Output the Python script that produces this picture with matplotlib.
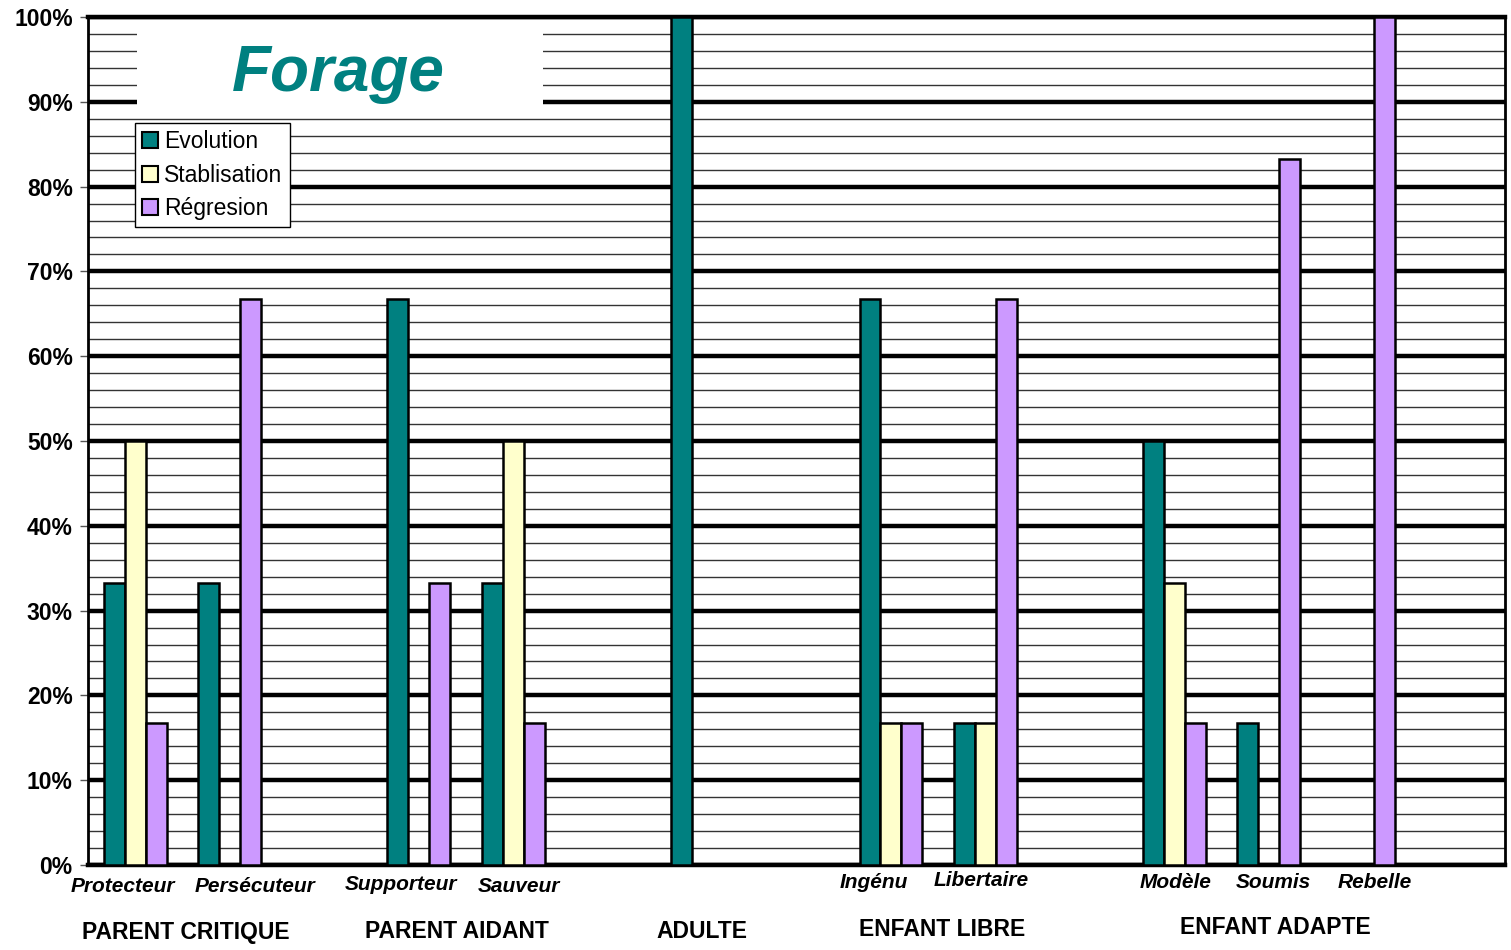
import matplotlib
matplotlib.use("Agg")
import matplotlib.pyplot as plt
import matplotlib.transforms as mtransforms
import numpy as np
from matplotlib.patches import Rectangle, Patch
from matplotlib.ticker import MultipleLocator, FuncFormatter

plt.rcParams["font.family"] = ["Liberation Sans", "DejaVu Sans"]

# 15 category slots, some left empty as spacers
roles = ["Protecteur", "Persécuteur", "", "Supporteur", "Sauveur", "", "ADULTE", "",
         "Ingénu", "Libertaire", "", "Modèle", "Soumis", "Rebelle", ""]
evolution = [33.3, 33.3, 0, 66.7, 33.3, 0, 100, 0, 66.7, 16.7, 0, 50, 16.7, 0, 0]
stablisation = [50, 0, 0, 0, 50, 0, 0, 0, 16.7, 16.7, 0, 33.3, 0, 0, 0]
regression = [16.7, 66.7, 0, 33.3, 16.7, 0, 0, 0, 16.7, 66.7, 0, 16.7, 83.3, 100, 0]

series_names = ["Evolution", "Stablisation", "Régresion"]
colors = ["#008080", "#FFFFCC", "#CC99FF"]

# role labels (placed by hand under the axis in the original)
role_labels = ["Protecteur", "Persécuteur", "Supporteur", "Sauveur",
               "Ingénu", "Libertaire", "Modèle", "Soumis", "Rebelle"]
role_label_x = [-0.13, 1.27, 2.81, 4.06, 7.82, 8.96, 11.01, 12.05, 13.12]
role_label_y = [887, 887, 885, 887, 883, 881, 883, 883, 883]

groups = ["PARENT CRITIQUE", "PARENT AIDANT", "ADULTE", "ENFANT LIBRE", "ENFANT ADAPTE"]
group_x = [0.54, 3.41, 6.0, 8.54, 12.07]
group_y = [932, 932, 931, 929, 927]

W, H = 1511, 950
fig = plt.figure(figsize=(W / 100, H / 100), dpi=100)
ax = fig.add_axes([88 / W, 1 - 865 / H, (1505 - 88) / W, (865 - 17) / H])

x = np.arange(len(roles))
width = 0.222
for i, (vals, col) in enumerate(zip([evolution, stablisation, regression], colors)):
    v = np.array(vals, dtype=float)
    mask = v > 0
    ax.bar(x[mask] + (i - 1) * width, v[mask], width, color=col,
           edgecolor="black", linewidth=1.8, zorder=3)

ax.set_xlim(-0.5, len(roles) - 0.5)
ax.set_ylim(0, 100)
ax.set_xticks([])
ax.yaxis.set_major_locator(MultipleLocator(10))
ax.yaxis.set_minor_locator(MultipleLocator(2))
ax.yaxis.set_major_formatter(FuncFormatter(lambda v, _: f"{v:.0f}%"))
ax.tick_params(axis="y", which="major", length=6, width=1, color="#555555", pad=5)
ax.tick_params(axis="y", which="minor", length=0)
for lab in ax.get_yticklabels():
    lab.set_fontweight("bold")
    lab.set_fontsize(16.5)

ax.set_axisbelow(True)
ax.grid(axis="y", which="minor", color="#333333", linewidth=1.0)
ax.grid(axis="y", which="major", color="black", linewidth=3.2)
ax.spines["left"].set_linewidth(2)
ax.spines["bottom"].set_linewidth(3.2)
ax.spines["top"].set_linewidth(3.2)
ax.spines["right"].set_linewidth(2)

# white box behind the title
ax.add_patch(Rectangle(((137 - 88) / (1505 - 88), (865 - 113) / 848),
                       (543 - 137) / (1505 - 88), (113 - 20) / 848,
                       transform=ax.transAxes, facecolor="white", edgecolor="none", zorder=1))
fig.text(338 / W, 1 - 74 / H, "Forage", color="#008080", fontsize=46,
         fontweight="bold", fontstyle="italic", ha="center", va="center")

handles = [Patch(facecolor=c, edgecolor="black", linewidth=1.5) for c in colors]
leg = ax.legend(handles, series_names, loc="upper left",
                bbox_to_anchor=((135 - 88) / (1505 - 88), (865 - 123) / 848),
                prop={"size": 16.5}, frameon=True, fancybox=False, framealpha=1,
                edgecolor="black", borderpad=0.32, labelspacing=0.45,
                handlelength=0.7, handleheight=0.7, handletextpad=0.25,
                borderaxespad=0)
leg.get_frame().set_linewidth(1)
leg.set_zorder(5)

label_trans = mtransforms.blended_transform_factory(ax.transData, fig.transFigure)
for lab, lx, ly in zip(role_labels, role_label_x, role_label_y):
    ax.text(lx, 1 - ly / H, lab, transform=label_trans, ha="center", va="center",
            fontsize=15, fontweight="bold", fontstyle="italic")

for lab, gx, gy in zip(groups, group_x, group_y):
    ax.text(gx, 1 - gy / H, lab, transform=label_trans, ha="center", va="center",
            fontsize=16.5, fontweight="bold")

fig.savefig("out.png", dpi=100)
